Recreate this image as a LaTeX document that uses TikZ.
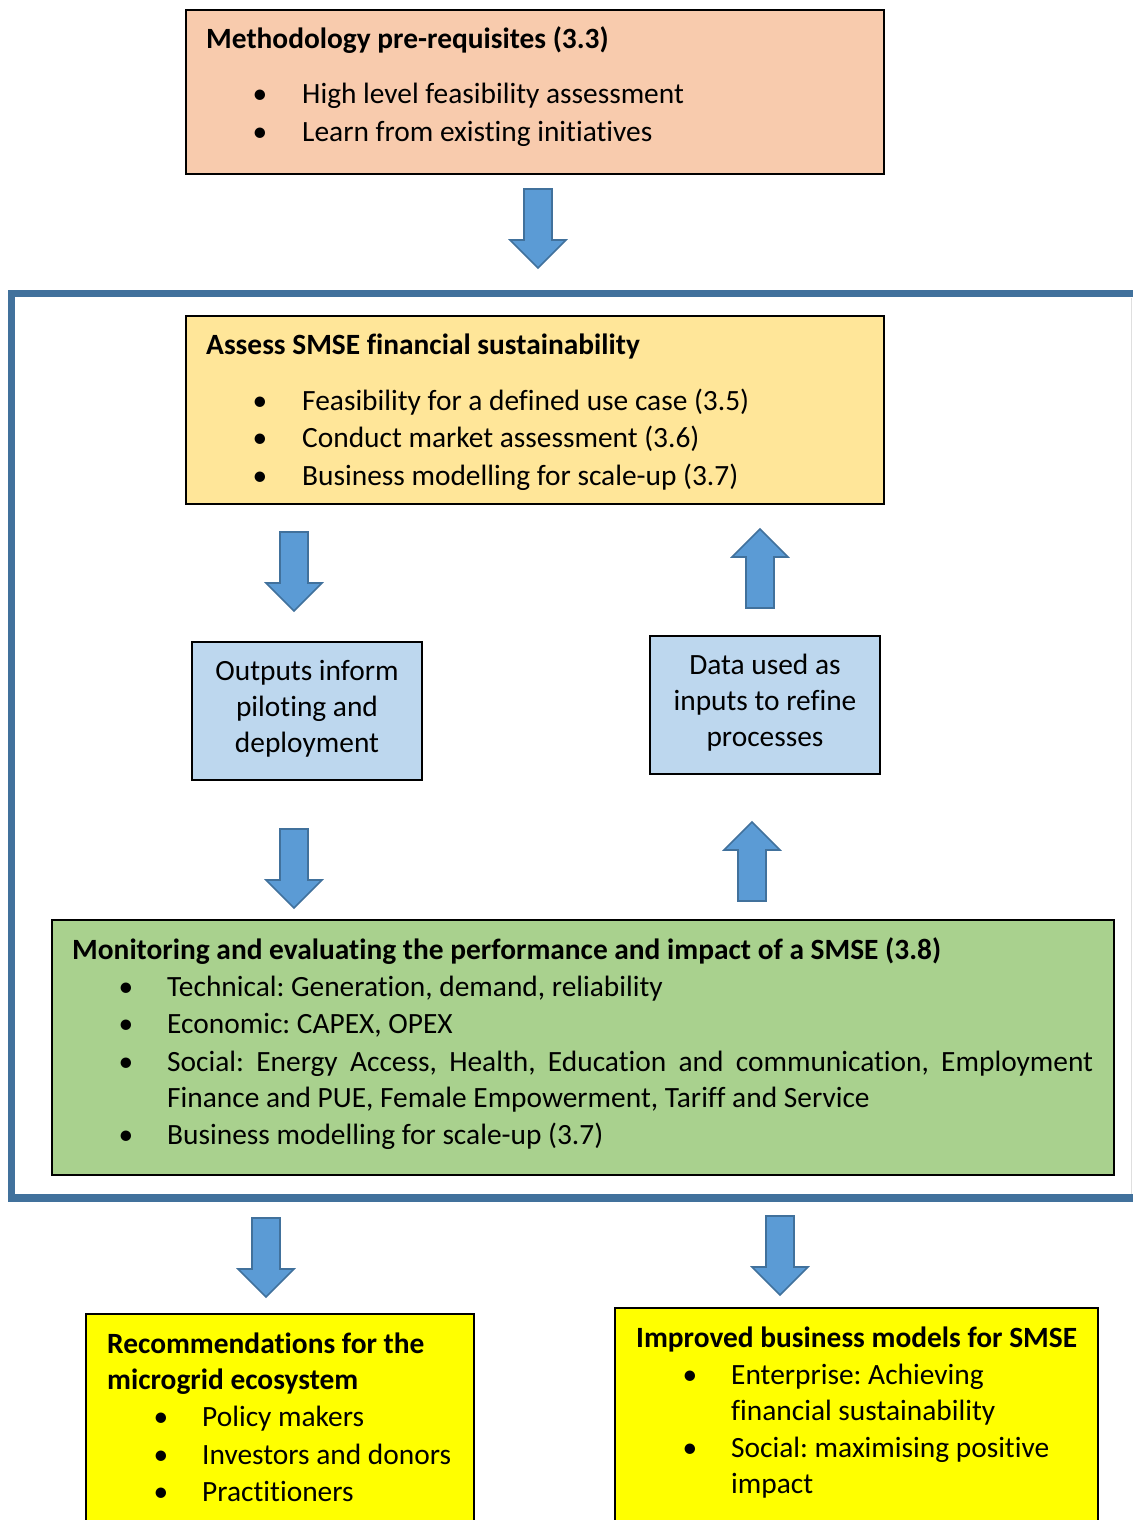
\documentclass[tikz,border=0pt]{standalone}
\usepackage{fontspec}
\setmainfont{Carlito}[Ligatures=NoCommon]
\frenchspacing
\definecolor{peach}{HTML}{F8CBAD}
\definecolor{lyellow}{HTML}{FFE699}
\definecolor{lblue}{HTML}{BDD7EE}
\definecolor{lgreen}{HTML}{A9D18E}
\definecolor{byellow}{HTML}{FFFF00}
\definecolor{arrfill}{HTML}{5B9BD5}
\definecolor{arrline}{HTML}{41719C}
\definecolor{framec}{HTML}{41719C}
\newcommand\myfs{\fontsize{29.4}{36}\selectfont}
\begin{document}
\begin{tikzpicture}[x=1pt,y=-1pt,
  box/.style={draw=black,line width=1.8pt,anchor=north west,inner sep=0pt,outer sep=0pt},
  txt/.style={anchor=base west,inner sep=0pt,font=\myfs,yshift=-9.5pt},
  ttl/.style={anchor=base west,inner sep=0pt,font=\myfs\bfseries,yshift=-9.5pt},
  bul/.style={anchor=base,inner sep=0pt,font=\myfs,yshift=-9.5pt},
  ctxt/.style={anchor=base,inner sep=0pt,font=\myfs,yshift=-9.5pt},
  arrowshape/.style={fill=arrfill,draw=arrline,line width=1.6pt,line join=miter},
  downarr/.pic={\path[arrowshape] (-14,0) -- (-14,51) -- (-28,51) -- (0,79) -- (28,51) -- (14,51) -- (14,0) -- cycle;},
  uparr/.pic={\path[arrowshape] (-14,79) -- (-14,28) -- (-28,28) -- (0,0) -- (28,28) -- (14,28) -- (14,79) -- cycle;}
]
\useasboundingbox (0,0) rectangle (1132,1520);
\fill[white] (0,0) rectangle (1132,1520);

% top box
\node[box,fill=peach,minimum width=698pt,minimum height=164pt] (pre) at (186,10) {};
\node[ttl] (preT) at (206,39) {Methodology pre-requisites (3.3)};
\node[bul] at (260,94) {\textbullet};
\node[txt] (pre1) at (302,94) {High level feasibility assessment};
\node[bul] at (260,132) {\textbullet};
\node[txt] (pre2) at (302,132) {Learn from existing initiatives};

\pic at (538,189) {downarr};

% outer frame
\draw[framec,line width=7.5pt,line join=miter] (1145,293.5) -- (11.5,293.5) -- (11.5,1198) -- (1145,1198);
\draw[gray!25,line width=1pt] (1131,297.5) -- (1131,1194);

% assess box
\node[box,fill=lyellow,minimum width=698pt,minimum height=188pt] (ass) at (186,316) {};
\node[ttl] (assT) at (206,345) {Assess SMSE financial sustainability};
\node[bul] at (260,401) {\textbullet};
\node[txt] (ass1) at (302,401) {Feasibility for a defined use case (3.5)};
\node[bul] at (260,438) {\textbullet};
\node[txt] (ass2) at (302,438) {Conduct market assessment (3.6)};
\node[bul] at (260,476) {\textbullet};
\node[txt] (ass3) at (302,476) {Business modelling for scale-up (3.7)};

\pic at (294,532) {downarr};
\pic at (760,529) {uparr};

% blue boxes
\node[box,fill=lblue,minimum width=230pt,minimum height=138pt] (out) at (192,642) {};
\node[ctxt] (outT1) at (307,671) {Outputs inform};
\node[ctxt] (outT2) at (307,707) {piloting and};
\node[ctxt] (outT3) at (307,743) {deployment};
\node[box,fill=lblue,minimum width=230pt,minimum height=138pt] (dat) at (650,636) {};
\node[ctxt] (datT1) at (765,665) {Data used as};
\node[ctxt] (datT2) at (765,701) {inputs to refine};
\node[ctxt] (datT3) at (765,737) {processes};

\pic at (294,829) {downarr};
\pic at (752,822) {uparr};

% green box
\node[box,fill=lgreen,minimum width=1062pt,minimum height=255pt] (mon) at (52,920) {};
\node[ttl] (monT) at (72,950) {Monitoring and evaluating the performance and impact of a SMSE (3.8)};
\node[bul] at (126,987) {\textbullet};
\node[txt] (mon1) at (167,987) {Technical: Generation, demand, reliability};
\node[bul] at (126,1024) {\textbullet};
\node[txt] (mon2) at (167,1024) {Economic: CAPEX, OPEX};
\node[bul] at (126,1062) {\textbullet};
\node[txt] (mon3) at (167,1062) {\makebox[926pt][s]{Social: Energy Access, Health, Education and communication, Employment}};
\node[txt] (mon3b) at (167,1098) {Finance and PUE, Female Empowerment, Tariff and Service};
\node[bul] at (126,1135) {\textbullet};
\node[txt] (mon4) at (167,1135) {Business modelling for scale-up (3.7)};

\pic at (266,1218) {downarr};
\pic at (780,1216) {downarr};

% bottom left
\node[box,fill=byellow,minimum width=388pt,minimum height=240pt] (rec) at (86,1314) {};
\node[ttl] (recT1) at (107,1344) {Recommendations for the};
\node[ttl] (recT2) at (107,1380) {microgrid ecosystem};
\node[bul] at (161,1417) {\textbullet};
\node[txt] (rec1) at (202,1417) {Policy makers};
\node[bul] at (161,1455) {\textbullet};
\node[txt] (rec2) at (202,1455) {Investors and donors};
\node[bul] at (161,1492) {\textbullet};
\node[txt] (rec3) at (202,1492) {Practitioners};

% bottom right
\node[box,fill=byellow,minimum width=483pt,minimum height=250pt] (imp) at (615,1308) {};
\node[ttl] (impT) at (636,1338) {Improved business models for SMSE};
\node[bul] at (690,1375) {\textbullet};
\node[txt] (imp1) at (731,1375) {Enterprise: Achieving};
\node[txt] (imp1b) at (731,1411) {financial sustainability};
\node[bul] at (690,1448) {\textbullet};
\node[txt] (imp2) at (731,1448) {Social: maximising positive};
\node[txt] (imp2b) at (731,1484) {impact};
\end{tikzpicture}
\end{document}
